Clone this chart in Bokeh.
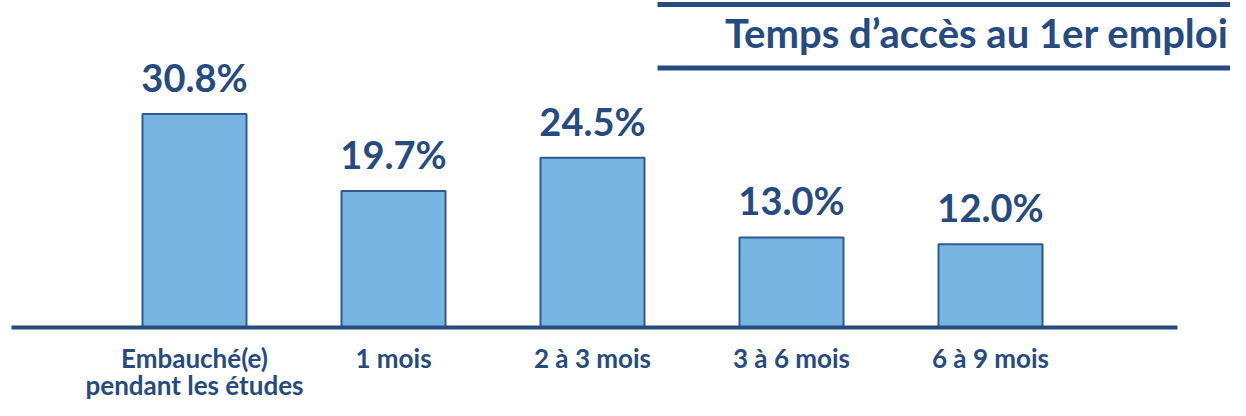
from bokeh.plotting import figure
from bokeh.models import Range1d, ColumnDataSource
from bokeh.core.properties import value
from bokeh.embed import file_html
from bokeh.resources import INLINE

# ---- data ----
categories = ["Embauché(e)\npendant les études", "1 mois", "2 à 3 mois", "3 à 6 mois", "6 à 9 mois"]
shares = [30.8, 19.7, 24.5, 13.0, 12.0]
value_labels = ["30.8%", "19.7%", "24.5%", "13.0%", "12.0%"]
title_text = "Temps d\u2019accès  au 1er emploi"

# ---- layout (pixels) ----
W, H = 1230, 400
SX = 199.0          # px per category step
SY = 6.93           # px per percent
X0_PX = 194.0       # canvas x of first category centre
ZERO_PX = 327.0     # canvas y of the zero line

x_start = -X0_PX / SX
y_start = -(H - ZERO_PX) / SY


def xdat(c):
    return x_start + c / SX


def ydat(c):
    return y_start + (H - c) / SY


DARK = "#264B80"
BAR = "#77B5E0"
BAR_LINE = "#2F5B92"
FONT = value("Lato")
ALPHA_FIX = 0.42    # em shift of rendered alphabetic baseline

p = figure(width=W, height=H, output_backend="svg", toolbar_location=None,
           x_range=Range1d(x_start, x_start + W / SX),
           y_range=Range1d(y_start, y_start + H / SY),
           x_axis_location=None, y_axis_location=None,
           min_border=0, min_border_left=0, min_border_right=0,
           min_border_top=0, min_border_bottom=0)
p.outline_line_color = None
p.grid.visible = False
p.background_fill_color = "white"
p.border_fill_color = "white"

VAL_FS = 38
idx = list(range(len(categories)))
src = ColumnDataSource(dict(x=idx, top=shares, lab=value_labels,
                            ly=[v + (21.0 + ALPHA_FIX * VAL_FS) / SY for v in shares],
                            cat=categories))

p.vbar(x="x", top="top", bottom=0, width=104.0 / SX, source=src,
       fill_color=BAR, line_color=BAR_LINE, line_width=2)

# baseline
p.segment(x0=[xdat(11)], y0=[0], x1=[xdat(1177)], y1=[0], line_color=DARK, line_width=4)

# value labels
p.text(x="x", y="ly", text="lab", source=src, text_font=FONT, text_font_style="bold",
       text_font_size=f"{VAL_FS}px", text_color=DARK, text_align="center",
       text_baseline="alphabetic")

# category labels
CAT_FS = 26
p.text(x="x", y=ydat(369 - 1.07 * CAT_FS), text="cat", source=src, text_font=FONT,
       text_font_style="bold", text_font_size=f"{CAT_FS}px", text_color=DARK,
       text_align="center", text_baseline="top", text_line_height=0.84)

# title block
p.segment(x0=[xdat(657)] * 2, y0=[ydat(4), ydat(67.5)], x1=[xdat(1230)] * 2,
          y1=[ydat(4), ydat(67.5)], line_color=DARK, line_width=5)
TITLE_FS = 40
p.text(x=[xdat(1238)], y=[ydat(48 - 0.38 * TITLE_FS)], text=[title_text], text_font=FONT,
       text_font_style="bold", text_font_size=f"{TITLE_FS}px", text_color=DARK,
       text_align="right", text_baseline="alphabetic")

open("out.html", "w").write(file_html(p, INLINE))
